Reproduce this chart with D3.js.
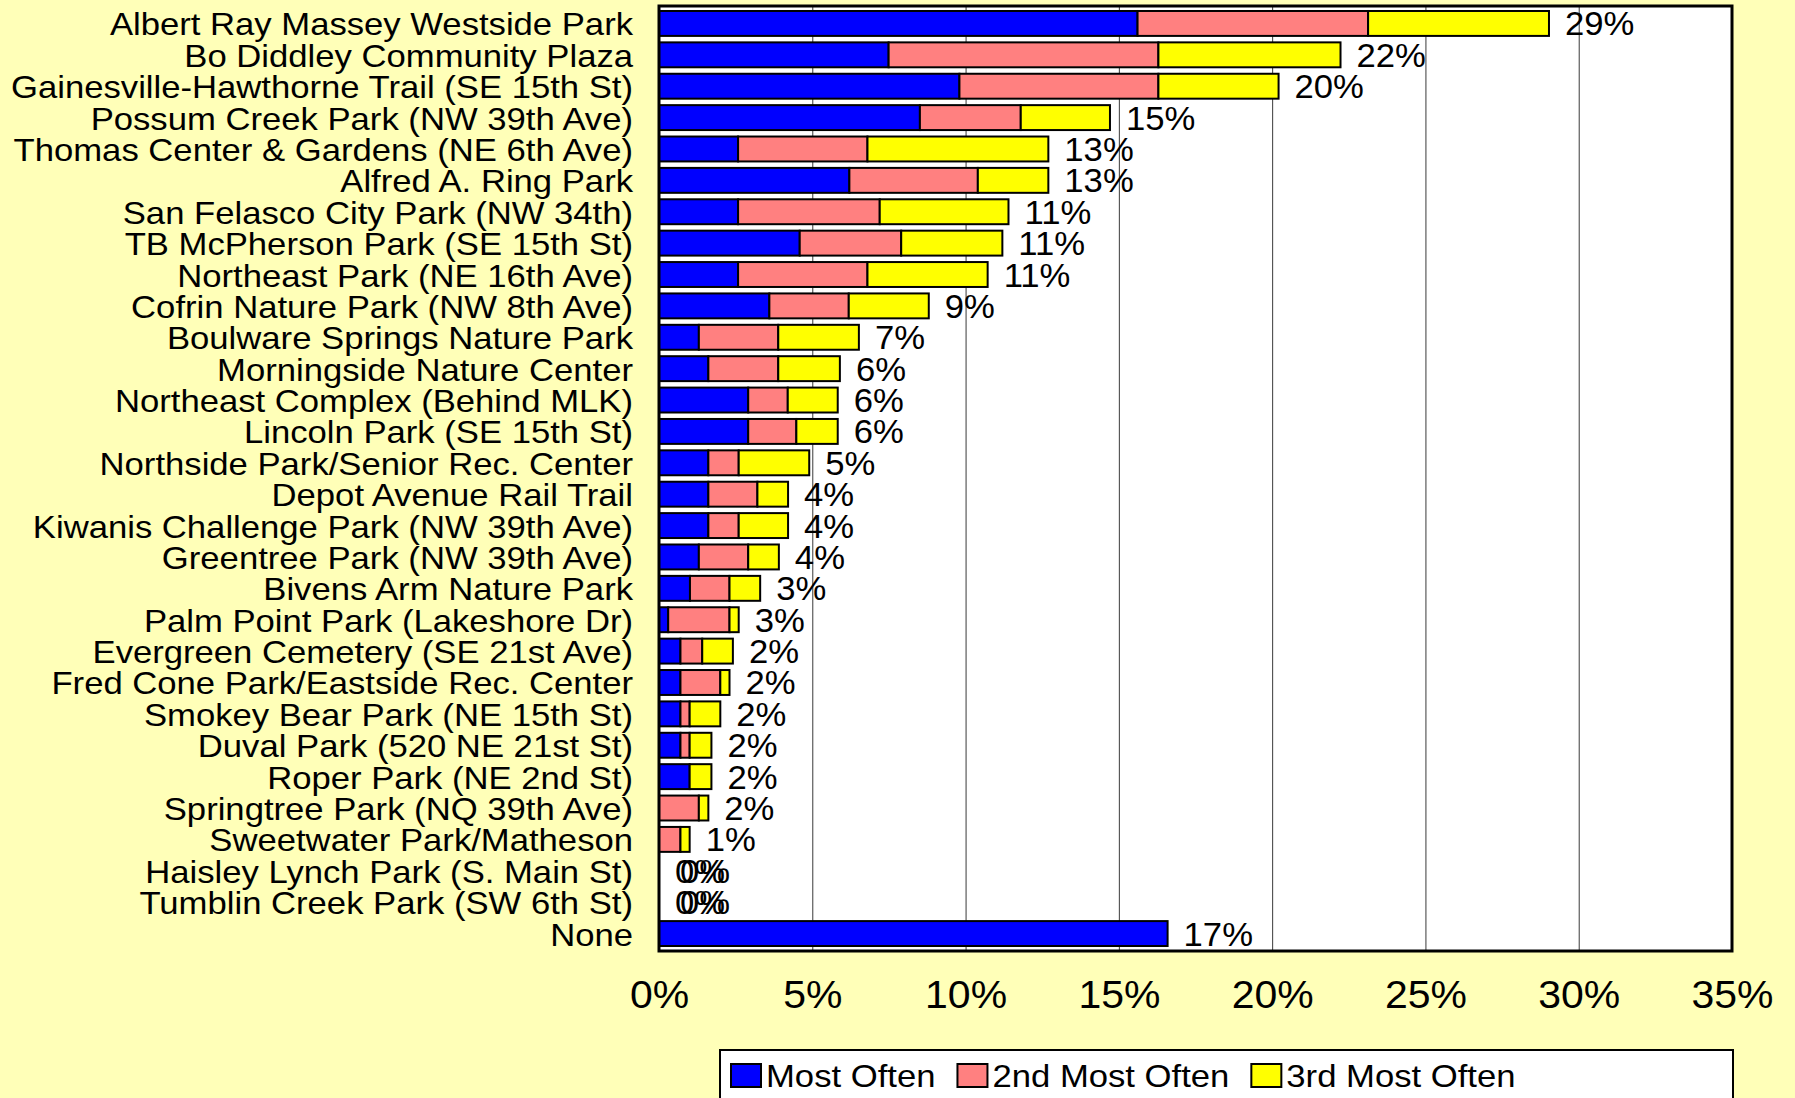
<!DOCTYPE html>
<html>
<head>
<meta charset="utf-8">
<script src="https://cdn.jsdelivr.net/npm/d3@7"></script>
<style>
  body { margin: 0; background: #FFFFB8; }
  text { font-family: "Liberation Sans", Arial, sans-serif; fill: #000; }
</style>
</head>
<body>
<div class="chart"></div>
<script>
// park names, top to bottom
const parks = [
  'Albert Ray Massey Westside Park',
  'Bo Diddley Community Plaza',
  'Gainesville-Hawthorne Trail (SE 15th St)',
  'Possum Creek Park (NW 39th Ave)',
  'Thomas Center & Gardens (NE 6th Ave)',
  'Alfred A. Ring Park',
  'San Felasco City Park (NW 34th)',
  'TB McPherson Park (SE 15th St)',
  'Northeast Park (NE 16th Ave)',
  'Cofrin Nature Park (NW 8th Ave)',
  'Boulware Springs Nature Park',
  'Morningside Nature Center',
  'Northeast Complex (Behind MLK)',
  'Lincoln Park (SE 15th St)',
  'Northside Park/Senior Rec. Center',
  'Depot Avenue Rail Trail',
  'Kiwanis Challenge Park (NW 39th Ave)',
  'Greentree Park (NW 39th Ave)',
  'Bivens Arm Nature Park',
  'Palm Point Park (Lakeshore Dr)',
  'Evergreen Cemetery (SE 21st Ave)',
  'Fred Cone Park/Eastside Rec. Center',
  'Smokey Bear Park (NE 15th St)',
  'Duval Park (520 NE 21st St)',
  'Roper Park (NE 2nd St)',
  'Springtree Park (NQ 39th Ave)',
  'Sweetwater Park/Matheson',
  'Haisley Lynch Park (S. Main St)',
  'Tumblin Creek Park (SW 6th St)',
  'None'
];

// percent of respondents
const mostOften = [15.61, 7.49, 9.80, 8.51, 2.58, 6.21, 2.58, 4.59, 2.58, 3.60,
  1.30, 1.61, 2.91, 2.91, 1.61, 1.61, 1.61, 1.30, 1.01, 0.30,
  0.70, 0.70, 0.70, 0.70, 1.00, 0, 0, 0, 0, 16.59];
const secondOften = [7.52, 8.80, 6.49, 3.29, 4.22, 4.19, 4.62, 3.31, 4.22, 2.59,
  2.59, 2.28, 1.29, 1.57, 0.99, 1.60, 0.99, 1.61, 1.29, 2.00,
  0.71, 1.30, 0.30, 0.30, 0, 1.30, 0.70, 0, 0, 0];
const thirdOften = [5.90, 5.94, 3.92, 2.91, 5.90, 2.30, 4.20, 3.30, 3.92, 2.61,
  2.63, 2.01, 1.63, 1.35, 2.30, 1.00, 1.61, 1.00, 1.00, 0.30,
  1.00, 0.30, 1.00, 0.71, 0.71, 0.31, 0.30, 0, 0, 0];

const totalLabels = ['29%', '22%', '20%', '15%', '13%', '13%', '11%', '11%', '11%', '9%',
  '7%', '6%', '6%', '6%', '5%', '4%', '4%', '4%', '3%', '3%',
  '2%', '2%', '2%', '2%', '2%', '2%', '1%', '0%', '0%', '17%'];

const seriesNames = ['Most Often', '2nd Most Often', '3rd Most Often'];
const seriesColors = ['#0000FF', '#FF8080', '#FFFF00'];
const xTicks = [0, 5, 10, 15, 20, 25, 30, 35];

const W = 1795, H = 1098;
const plot = { left: 659, top: 6, right: 1732, bottom: 951 };
const catFont = 31.5, catStretch = 1.1;

const svg = d3.select('.chart')
  .append('svg')
  .attr('width', W)
  .attr('height', H);

svg.append('rect')
  .attr('width', W)
  .attr('height', H)
  .attr('fill', '#FFFFB8');

const x = d3.scaleLinear()
  .domain([0, 35])
  .range([plot.left, plot.right]);

const y = d3.scaleBand()
  .domain(parks)
  .range([plot.top, plot.bottom])
  .paddingInner(0.206)
  .paddingOuter(0.159);

// plot area
svg.append('rect')
  .attr('x', plot.left)
  .attr('y', plot.top)
  .attr('width', plot.right - plot.left)
  .attr('height', plot.bottom - plot.top)
  .attr('fill', '#fff');

// gridlines
svg.append('g')
  .selectAll('line')
  .data(xTicks.slice(1, -1))
  .join('line')
  .attr('x1', d => x(d) + 0.5)
  .attr('x2', d => x(d) + 0.5)
  .attr('y1', plot.top)
  .attr('y2', plot.bottom)
  .attr('stroke', '#3a3a3a')
  .attr('stroke-width', 1);

// stacked bars
const rows = parks.map((p, i) => ({
  park: p,
  'Most Often': mostOften[i],
  '2nd Most Often': secondOften[i],
  '3rd Most Often': thirdOften[i]
}));
const stacked = d3.stack().keys(seriesNames)(rows);

svg.append('g')
  .selectAll('g')
  .data(stacked)
  .join('g')
  .attr('fill', (d, i) => seriesColors[i])
  .selectAll('rect')
  .data(d => d.filter(s => s[1] - s[0] > 0))
  .join('rect')
  .attr('x', d => x(d[0]))
  .attr('y', d => y(d.data.park))
  .attr('width', d => x(d[1]) - x(d[0]))
  .attr('height', y.bandwidth())
  .attr('stroke', '#000')
  .attr('stroke-width', 2);

// total labels
const totals = rows.map((r, i) => mostOften[i] + secondOften[i] + thirdOften[i]);
const labelG = svg.append('g');
parks.forEach((p, i) => {
  const cy = y(p) + y.bandwidth() / 2;
  // empty rows get two labels on top of each other, as in the original
  const offsets = totals[i] === 0 ? [0, 5] : [0];
  offsets.forEach(o => {
    labelG.append('text')
      .attr('transform', `translate(${x(totals[i]) + 16 + o}, ${cy + 12}) scale(1.05,1)`)
      .attr('font-size', 33)
      .text(totalLabels[i]);
  });
});

// category labels
svg.append('g')
  .selectAll('text')
  .data(parks)
  .join('text')
  .attr('transform', d => `translate(633, ${y(d) + y.bandwidth() / 2 + 12}) scale(${catStretch},1)`)
  .attr('text-anchor', 'end')
  .attr('font-size', catFont)
  .text(d => d);

// x axis labels
const xAxis = d3.axisBottom(x)
  .tickValues(xTicks)
  .tickSize(0)
  .tickFormat(d => d + '%');

const axisG = svg.append('g')
  .attr('transform', `translate(0, ${plot.bottom})`)
  .call(xAxis);
axisG.select('.domain').remove();
axisG.selectAll('text')
  .attr('y', 57)
  .attr('dy', 0)
  .attr('font-size', 39)
  .attr('font-family', '"Liberation Sans", Arial, sans-serif')
  .attr('transform', 'scale(1.05,1)');

// plot border
svg.append('rect')
  .attr('x', plot.left)
  .attr('y', plot.top)
  .attr('width', plot.right - plot.left)
  .attr('height', plot.bottom - plot.top)
  .attr('fill', 'none')
  .attr('stroke', '#000')
  .attr('stroke-width', 3);

// legend
const legend = svg.append('g');
legend.append('rect')
  .attr('x', 720)
  .attr('y', 1050)
  .attr('width', 1013)
  .attr('height', 70)
  .attr('fill', '#fff')
  .attr('stroke', '#000')
  .attr('stroke-width', 2);

let lx = 731;
seriesNames.forEach((name, i) => {
  legend.append('rect')
    .attr('x', lx)
    .attr('y', 1064)
    .attr('width', 30)
    .attr('height', 23)
    .attr('fill', seriesColors[i])
    .attr('stroke', '#000')
    .attr('stroke-width', 2);
  const t = legend.append('text')
    .attr('transform', `translate(${lx + 35}, 1087) scale(${catStretch},1)`)
    .attr('font-size', catFont)
    .text(name);
  lx += 35 + t.node().getComputedTextLength() * catStretch + 22;
});
</script>
</body>
</html>
